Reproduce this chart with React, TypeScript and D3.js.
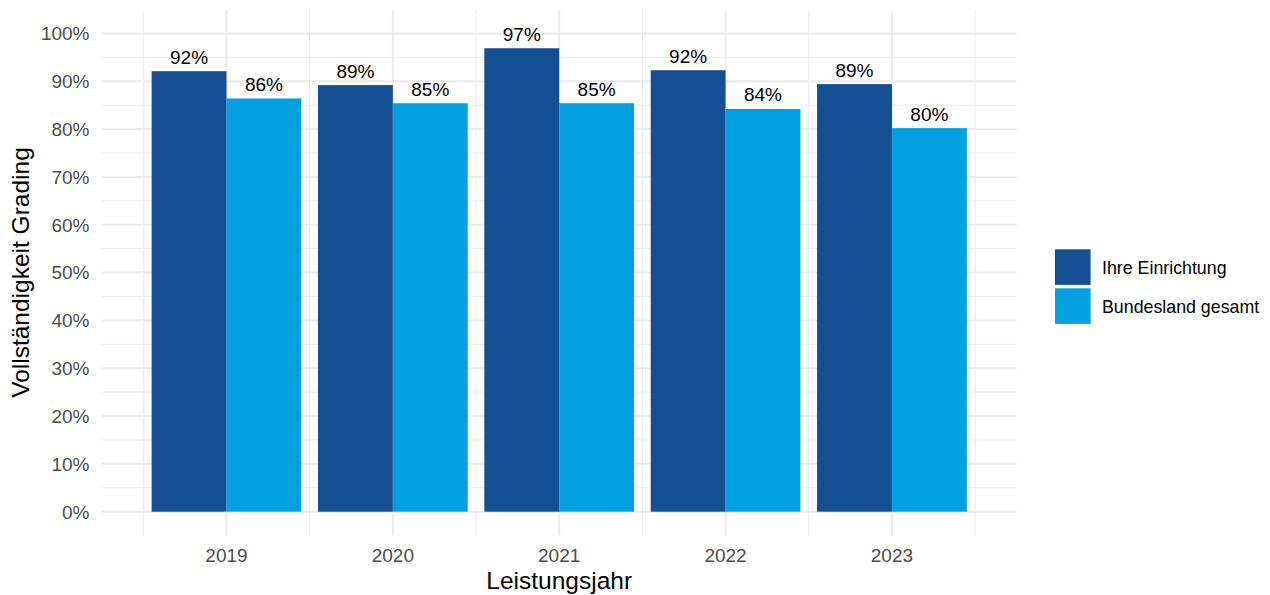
import React from "react";
import * as d3 from "d3";

const years = ["2019", "2020", "2021", "2022", "2023"];
const seriesNames = ["Ihre Einrichtung", "Bundesland gesamt"];
const seriesColors = ["#154F93", "#00A0E1"];
const ihreEinrichtung = [0.921, 0.892, 0.969, 0.923, 0.894];
const bundeslandGesamt = [0.864, 0.854, 0.854, 0.842, 0.802];
const yTicks = [0, 0.1, 0.2, 0.3, 0.4, 0.5, 0.6, 0.7, 0.8, 0.9, 1.0];

const W = 1270;
const H = 595;
const panel = { left: 101.7, right: 1016.7, top: 9.5, bottom: 535.6 };
const FONT = "'Liberation Sans', Arial, Helvetica, sans-serif";

export default function App() {
  const series = [ihreEinrichtung, bundeslandGesamt];

  // Continuous y with 5% expansion on either side of 0..1
  const y = d3
    .scaleLinear()
    .domain([-0.05, 1.05])
    .range([panel.bottom, panel.top]);

  // Discrete x: category positions 1..5, expanded by 0.75 units each side
  const x = d3
    .scaleLinear()
    .domain([0.25, years.length + 0.75])
    .range([panel.left, panel.right]);

  const dodge = 0.9;
  const barW = dodge / series.length;

  const minorY = d3.range(0.05, 1.0, 0.1);
  const minorX = d3.range(0.5, years.length + 1, 1);
  const fmt = d3.format(".0%");

  return (
    <svg
      width={W}
      height={H}
      style={{ position: "absolute", left: 0, top: 0, background: "#fff" }}
      fontFamily={FONT}
    >
      {/* minor grid */}
      <g stroke="#EBEBEB" strokeWidth={1}>
        {minorY.map((v) => (
          <line key={"my" + v} x1={panel.left} x2={panel.right} y1={y(v)} y2={y(v)} />
        ))}
        {minorX.map((v) => (
          <line key={"mx" + v} x1={x(v)} x2={x(v)} y1={panel.top} y2={panel.bottom} />
        ))}
      </g>
      {/* major grid */}
      <g stroke="#EBEBEB" strokeWidth={2}>
        {yTicks.map((v) => (
          <line key={"gy" + v} x1={panel.left} x2={panel.right} y1={y(v)} y2={y(v)} />
        ))}
        {years.map((_, i) => (
          <line key={"gx" + i} x1={x(i + 1)} x2={x(i + 1)} y1={panel.top} y2={panel.bottom} />
        ))}
      </g>

      {/* bars */}
      {years.map((yr, i) =>
        series.map((vals, s) => {
          const x0 = x(i + 1 - dodge / 2 + s * barW);
          const x1 = x(i + 1 - dodge / 2 + (s + 1) * barW);
          return (
            <rect
              key={yr + s}
              x={x0}
              y={y(vals[i])}
              width={x1 - x0}
              height={y(0) - y(vals[i])}
              fill={seriesColors[s]}
            />
          );
        })
      )}

      {/* value labels */}
      {years.map((yr, i) =>
        series.map((vals, s) => {
          const cx = x(i + 1 - dodge / 2 + (s + 0.5) * barW);
          return (
            <text
              key={"l" + yr + s}
              x={cx}
              y={y(vals[i]) - 7.5}
              textAnchor="middle"
              fontSize={19}
              fill="#000"
            >
              {fmt(Math.round(vals[i] * 100) / 100)}
            </text>
          );
        })
      )}

      {/* y tick labels */}
      {yTicks.map((v) => (
        <text
          key={"yt" + v}
          x={89.5}
          y={y(v)}
          dy="0.36em"
          textAnchor="end"
          fontSize={19}
          fill="#4D4D4D"
        >
          {fmt(v)}
        </text>
      ))}

      {/* x tick labels */}
      {years.map((yr, i) => (
        <text
          key={"xt" + yr}
          x={x(i + 1)}
          y={562}
          textAnchor="middle"
          fontSize={19}
          fill="#4D4D4D"
        >
          {yr}
        </text>
      ))}

      {/* axis titles */}
      <text
        x={(panel.left + panel.right) / 2}
        y={588.5}
        textAnchor="middle"
        fontSize={24.5}
        fill="#000"
      >
        Leistungsjahr
      </text>
      <text
        transform={`translate(28.5, ${(panel.top + panel.bottom) / 2}) rotate(-90)`}
        textAnchor="middle"
        fontSize={24.5}
        fill="#000"
      >
        Vollständigkeit Grading
      </text>

      {/* legend */}
      {seriesNames.map((name, s) => (
        <g key={name} transform={`translate(1055, ${249.3 + s * 39})`}>
          <rect width={35.6} height={35.6} fill={seriesColors[s]} />
          <text x={47} y={17.8} dy="0.36em" fontSize={17.8} fill="#000">
            {name}
          </text>
        </g>
      ))}
    </svg>
  );
}
